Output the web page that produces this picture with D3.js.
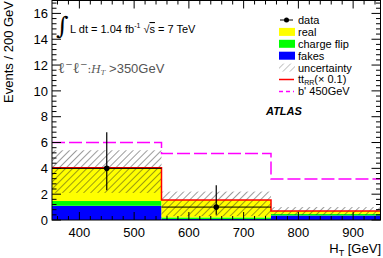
<!DOCTYPE html>
<html>
<head>
<meta charset="utf-8">
<script src="https://cdn.jsdelivr.net/npm/d3@7"></script>
<style>
  body { margin: 0; background: #fff; }
  svg { display: block; font-family: "Liberation Sans", Arial, sans-serif; }
</style>
</head>
<body>
<div id="chart"></div>
<script>
// bins in H_T [GeV]
const binEdges = [350, 550, 750, 950];
// stacked backgrounds (events / 200 GeV)
const fakes = [1.1, 0.08, 0.35];
const chargeFlip = [0.37, 0.12, 0.12];
const real = [2.58, 1.35, 0.23];
// uncertainty band
const uncLow = [2.1, 0.3, 0.4];
const uncHigh = [5.4, 2.2, 1.0];
// overlaid lines
const ttRR = [4.05, 1.55, 0.7];
const bPrime = [6.0, 5.15, 3.17];
// data points
const dataX = [450, 650];
const dataY = [4, 1];
const dataLo = [2.3, 0.4];
const dataHi = [6.8, 2.7];

const xTicks = [400, 500, 600, 700, 800, 900];
const yTicks = [0, 2, 4, 6, 8, 10, 12, 14, 16];

const width = 383, height = 258;
const plotL = 52, plotR = 380.5, plotT = 0.5, plotB = 220;

const svg = d3.select("#chart").append("svg")
    .attr("width", width)
    .attr("height", height);

const x = d3.scaleLinear().domain([350, 950]).range([plotL, plotR]);
const y = d3.scaleLinear().domain([0, 17]).range([plotB, plotT]);

// hatch pattern
const defs = svg.append("defs");
const pat = defs.append("pattern")
    .attr("id", "hatch")
    .attr("patternUnits", "userSpaceOnUse")
    .attr("width", 5).attr("height", 5)
    .attr("patternTransform", "rotate(45)");
pat.append("line")
    .attr("x1", 0).attr("y1", 0).attr("x2", 0).attr("y2", 5)
    .attr("stroke", "#222").attr("stroke-width", 0.9);

const clip = defs.append("clipPath").attr("id", "plotclip");
clip.append("rect").attr("x", plotL).attr("y", plotT)
    .attr("width", plotR - plotL).attr("height", plotB - plotT);

const plot = svg.append("g").attr("clip-path", "url(#plotclip)");

// stack
const bins = d3.range(3).map(i => ({
    i, x0: binEdges[i], x1: binEdges[i + 1],
    fakes: fakes[i], chargeFlip: chargeFlip[i], real: real[i]
}));
const stack = d3.stack().keys(["fakes", "chargeFlip", "real"])(bins);
const colors = { fakes: "#0000ff", chargeFlip: "#00ff00", real: "#ffff00" };

stack.forEach(layer => {
    plot.selectAll(null)
        .data(layer)
        .enter().append("rect")
        .attr("x", d => x(d.data.x0))
        .attr("width", d => x(d.data.x1) - x(d.data.x0))
        .attr("y", d => y(d[1]))
        .attr("height", d => y(d[0]) - y(d[1]))
        .attr("fill", colors[layer.key]);
});

// uncertainty band
plot.selectAll(".unc")
    .data(bins)
    .enter().append("rect")
    .attr("x", d => x(d.x0))
    .attr("width", d => x(d.x1) - x(d.x0))
    .attr("y", d => y(uncHigh[d.i]))
    .attr("height", d => y(uncLow[d.i]) - y(uncHigh[d.i]))
    .attr("fill", "url(#hatch)");

// step line helper
function stepPath(vals) {
    const pts = [];
    vals.forEach((v, i) => {
        pts.push([x(binEdges[i]), y(v)]);
        pts.push([x(binEdges[i + 1]), y(v)]);
    });
    return d3.line()(pts);
}

plot.append("path")
    .attr("d", stepPath(ttRR))
    .attr("fill", "none")
    .attr("stroke", "#ff0000")
    .attr("stroke-width", 1.5);

plot.append("path")
    .attr("d", stepPath(bPrime))
    .attr("fill", "none")
    .attr("stroke", "#ff00ff")
    .attr("stroke-width", 1.5)
    .attr("stroke-dasharray", "13,4");

// data
const pts = plot.selectAll(".pt")
    .data(dataX.map((d, i) => ({ x: d, y: dataY[i], lo: dataLo[i], hi: dataHi[i], i })))
    .enter().append("g");
pts.append("line")
    .attr("x1", d => x(binEdges[d.i])).attr("x2", d => x(binEdges[d.i + 1]))
    .attr("y1", d => y(d.y)).attr("y2", d => y(d.y))
    .attr("stroke", "#000").attr("stroke-width", 1);
pts.append("line")
    .attr("x1", d => x(d.x)).attr("x2", d => x(d.x))
    .attr("y1", d => y(d.lo)).attr("y2", d => y(d.hi))
    .attr("stroke", "#000").attr("stroke-width", 1.2);
pts.append("circle")
    .attr("cx", d => x(d.x)).attr("cy", d => y(d.y))
    .attr("r", 2.8).attr("fill", "#000");

// frame and ticks (ROOT style, inward on all sides)
const axes = svg.append("g");
axes.append("rect")
    .attr("x", plotL).attr("y", plotT)
    .attr("width", plotR - plotL).attr("height", plotB - plotT)
    .attr("fill", "none").attr("stroke", "#000").attr("stroke-width", 1);

const xMinor = d3.range(360, 950, 20);
const yMinor = d3.range(0, 17.01, 0.4);
function tick(x1, y1, x2, y2) {
    axes.append("line").attr("x1", x1).attr("y1", y1).attr("x2", x2).attr("y2", y2)
        .attr("stroke", "#000").attr("stroke-width", 1);
}
xMinor.forEach(v => {
    const major = v % 100 === 0;
    const len = major ? 8 : 4;
    tick(x(v), plotB, x(v), plotB - len);
    tick(x(v), plotT, x(v), plotT + len);
});
yMinor.forEach(v => {
    const major = Math.abs(v / 2 - Math.round(v / 2)) < 1e-6;
    const len = major ? 9 : 4.5;
    tick(plotL, y(v), plotL + len, y(v));
    tick(plotR, y(v), plotR - len, y(v));
});

axes.selectAll(".yl")
    .data(yTicks)
    .enter().append("text")
    .attr("x", 48).attr("y", d => y(d)).attr("dy", "0.36em")
    .attr("text-anchor", "end")
    .attr("font-size", 13)
    .text(d => d);

axes.selectAll(".xl")
    .data(xTicks)
    .enter().append("text")
    .attr("x", d => x(d)).attr("y", 237)
    .attr("text-anchor", "middle")
    .attr("font-size", 13)
    .text(d => d);

// axis titles
const xt = svg.append("text")
    .attr("x", 381).attr("y", 253)
    .attr("text-anchor", "end")
    .attr("font-size", 13);
xt.append("tspan").text("H");
xt.append("tspan").attr("font-size", 9).attr("dy", 3).text("T");
xt.append("tspan").attr("dy", -3).text(" [GeV]");

svg.append("text")
    .attr("transform", "translate(13,1) rotate(-90)")
    .attr("text-anchor", "end")
    .attr("font-size", 13)
    .text("Events / 200 GeV");

// luminosity label
svg.append("text")
    .attr("x", 56).attr("y", 34)
    .attr("font-family", "DejaVu Serif, serif")
    .attr("font-size", 24)
    .text("∫");
const lum = svg.append("text")
    .attr("x", 70).attr("y", 33)
    .attr("font-size", 11);
lum.append("tspan").text("L dt = 1.04 fb");
lum.append("tspan").attr("font-size", 7).attr("dy", -5).text("-1");
lum.append("tspan").attr("dy", 5).text(" √");
lum.append("tspan").attr("text-decoration", "overline").text("s");
lum.append("tspan").text(" = 7 TeV");

// channel label
const serif = "DejaVu Serif, serif";
const ch = svg.append("text")
    .attr("x", 58).attr("y", 73)
    .attr("fill", "#555")
    .attr("font-size", 13);
ch.append("tspan").attr("font-family", serif).attr("font-size", 15).text("ℓ");
ch.append("tspan").attr("font-family", serif).attr("font-size", 9).attr("dy", -6).text("−");
ch.append("tspan").attr("dy", 6).attr("font-family", serif).attr("font-size", 15).text("ℓ");
ch.append("tspan").attr("font-family", serif).attr("font-size", 9).attr("dy", -6).text("−");
ch.append("tspan").attr("dy", 6).attr("font-family", serif).attr("font-size", 11).text(":");
ch.append("tspan").attr("font-family", serif).attr("font-style", "italic").attr("font-size", 11).text("H");
ch.append("tspan").attr("font-family", serif).attr("font-style", "italic").attr("font-size", 7).attr("dy", 2).text("T");
ch.append("tspan").attr("dy", -2).text(" >350GeV");

// legend
const legItems = [
    { label: "data", type: "data" },
    { label: "real", type: "box", color: "#ffff00" },
    { label: "charge flip", type: "box", color: "#00ff00" },
    { label: "fakes", type: "box", color: "#0000ff" },
    { label: "uncertainty", type: "hatch" },
    { label: "tt", sub: "RR", tail: "(× 0.1)", type: "line", color: "#ff0000" },
    { label: "b' 450GeV", type: "dash", color: "#ff00ff" }
];
const leg = svg.append("g").attr("transform", "translate(279,20)");
legItems.forEach((d, i) => {
    const g = leg.append("g").attr("transform", `translate(0,${i * 11.9})`);
    if (d.type === "data") {
        g.append("line").attr("x1", 1).attr("x2", 14).attr("stroke", "#000");
        g.append("circle").attr("cx", 7.5).attr("r", 2.5).attr("fill", "#000");
    } else if (d.type === "box") {
        g.append("rect").attr("x", 0).attr("y", -4).attr("width", 16).attr("height", 8).attr("fill", d.color);
    } else if (d.type === "hatch") {
        g.append("rect").attr("x", 0).attr("y", -4).attr("width", 16).attr("height", 8).attr("fill", "url(#hatch)").attr("opacity", 0.6);
    } else if (d.type === "line") {
        g.append("line").attr("x1", 0).attr("x2", 15).attr("stroke", d.color).attr("stroke-width", 1.5);
    } else {
        g.append("line").attr("x1", 0).attr("x2", 15).attr("stroke", d.color)
            .attr("stroke-width", 1.5).attr("stroke-dasharray", "4,3");
    }
    const t = g.append("text").attr("x", 19).attr("dy", "0.36em").attr("font-size", 11).text(d.label);
    if (d.sub) {
        t.append("tspan").attr("font-size", 7).attr("dy", 2).text(d.sub);
        t.append("tspan").attr("dy", -2).text(d.tail);
    }
});

svg.append("text")
    .attr("x", 266).attr("y", 115)
    .attr("font-size", 11)
    .attr("font-weight", "bold")
    .attr("font-style", "italic")
    .text("ATLAS");
</script>
</body>
</html>
